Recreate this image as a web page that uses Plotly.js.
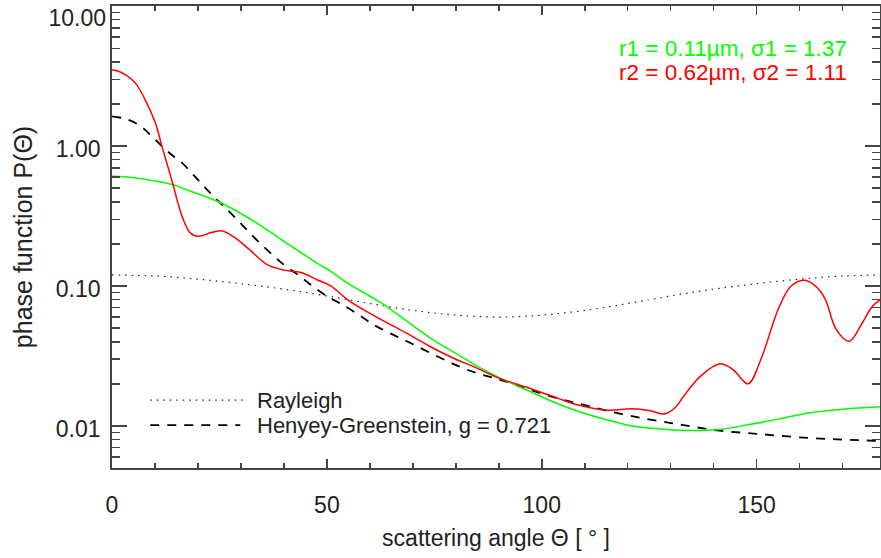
<!DOCTYPE html>
<html>
<head>
<meta charset="utf-8">
<script src="https://cdn.plot.ly/plotly-3.0.1.min.js"></script>
<style>html,body{margin:0;padding:0;background:#fff;}#chart{width:881px;height:558px;}</style>
</head>
<body>
<div id="chart"></div>
<script>
// Rayleigh phase function (dotted)
const rayAngle = [0,10,20,30,40,50,60,70,80,90,100,110,120,130,140,150,160,170,180];
const rayValue = [0.120,0.118,0.112,0.104,0.095,0.085,0.075,0.067,0.062,0.060,0.062,0.067,0.075,0.085,0.095,0.104,0.112,0.118,0.120];

// Henyey-Greenstein, g = 0.721 (dashed)
const hgAngle = [0,3,6.2,9,11.6,14,16.3,19,21.7,24.4,27.5,30.6,33.5,36.8,40,43.8,47,50,53,57,60.8,65,69.4,75,80.2,85,89.5,95,102,110,117.4,124,130,135,140.7,150,160,170,180];
const hgValue = [1.63,1.57,1.42,1.2,1.0,0.86,0.759,0.62,0.503,0.415,0.335,0.267,0.216,0.173,0.142,0.117,0.098,0.0846,0.0755,0.0635,0.0531,0.0455,0.0393,0.0322,0.0271,0.0238,0.0218,0.0192,0.0163,0.0141,0.0124,0.0113,0.0105,0.0099,0.0093,0.0088,0.0083,0.0080,0.0078];

// Mode 1: r1 = 0.11 um, sigma1 = 1.37 (green)
const g1Angle = [0,6,14,18,24,30,36,42,47.7,51,55,60.8,63.6,69,74,80,85.7,91,97,104,110,116,121,128,135,142,148,155,162,170,180];
const g1Value = [0.608,0.59,0.531,0.48,0.41,0.33,0.253,0.19,0.146,0.127,0.104,0.082,0.0726,0.055,0.0427,0.033,0.026,0.0215,0.0178,0.0143,0.0123,0.0109,0.0100,0.0095,0.0093,0.0095,0.0102,0.0112,0.0124,0.0132,0.0138];

// Mode 2: r2 = 0.62 um, sigma2 = 1.11 (red)
const r2Angle = [0,1.5,3.1,5.4,7.7,10.1,11.6,13.2,14.3,16.3,18.2,20.1,23.3,25.5,28,32,36,40,44,47.7,51,55,62,68,74,80,84,90,97,104,108,115,121,125,128.5,131,133,137,141.5,144.5,148,151,155,158,161.2,164,166,168.5,171.5,174.5,177,180];
const r2Value = [3.5,3.43,3.24,2.83,2.15,1.46,1.0,0.68,0.516,0.315,0.24,0.227,0.242,0.248,0.228,0.182,0.143,0.130,0.125,0.111,0.100,0.079,0.059,0.047,0.037,0.030,0.0267,0.022,0.0187,0.0157,0.01425,0.0130,0.0133,0.0129,0.0122,0.0135,0.0163,0.0228,0.0278,0.0253,0.0200,0.030,0.068,0.100,0.110,0.098,0.080,0.049,0.0403,0.054,0.072,0.085];

const yTickVals = [0.01,0.1,1,10];
const yTickText = ['0.01','0.10','1.00',''];
const yTopTickVals = [10];
const yTopTickText = ['10.00'];
const yMinorVals = [0.006,0.007,0.008,0.009,0.02,0.03,0.04,0.05,0.06,0.07,0.08,0.09,0.2,0.3,0.4,0.5,0.6,0.7,0.8,0.9,2,3,4,5,6,7,8,9];

const FONT = 'Liberation Sans, Arial, Helvetica, sans-serif';
const AX = '#444';
const TXT = '#222';

const traces = [
  {x: rayAngle, y: rayValue, mode: 'lines', line: {color: '#222', width: 1.2, dash: '1.5px,5px', shape: 'spline'}, hoverinfo: 'skip'},
  {x: hgAngle, y: hgValue, mode: 'lines', line: {color: '#000', width: 1.8, dash: '9px,8px', shape: 'spline'}, hoverinfo: 'skip'},
  {x: g1Angle, y: g1Value, mode: 'lines', line: {color: '#00ff00', width: 1.5, shape: 'spline'}, hoverinfo: 'skip'},
  {x: r2Angle, y: r2Value, mode: 'lines', line: {color: '#ff0000', width: 1.5, shape: 'spline'}, hoverinfo: 'skip'},
  {x: [], y: [], yaxis: 'y2', mode: 'lines', hoverinfo: 'skip'}
];

const layout = {
  width: 881, height: 558,
  margin: {l: 112, r: 1, t: 6, b: 90},
  paper_bgcolor: '#fff', plot_bgcolor: '#fff',
  showlegend: false,
  font: {family: FONT, size: 22, color: TXT},
  xaxis: {
    range: [0, 178.7], showgrid: false, zeroline: false,
    showline: true, linecolor: AX, linewidth: 1.8, mirror: 'ticks',
    ticks: 'inside', ticklen: 9, tickwidth: 1.5, tickcolor: AX,
    tick0: 0, dtick: 50, ticklabelstandoff: 16,
    minor: {dtick: 10, ticks: 'inside', ticklen: 5, tickwidth: 1.5, tickcolor: AX},
    tickfont: {family: FONT, size: 23, color: TXT},
    title: {text: 'scattering angle Θ [ ° ]', font: {family: FONT, size: 23, color: TXT}, standoff: 12}
  },
  yaxis: {
    type: 'log', range: [-2.3, 1.001], showgrid: false, zeroline: false,
    showline: true, linecolor: AX, linewidth: 1.8, mirror: 'ticks',
    ticks: 'inside', ticklen: 15, tickwidth: 1.5, tickcolor: AX,
    tickmode: 'array', tickvals: yTickVals, ticktext: yTickText, ticklabelstandoff: 5,
    ticklabelshift: 3,
    minor: {tickmode: 'array', tickvals: yMinorVals, ticks: 'inside', ticklen: 8, tickwidth: 1.5, tickcolor: AX},
    tickfont: {family: FONT, size: 23, color: TXT},
    title: {text: 'phase function P(Θ)', font: {family: FONT, size: 25, color: TXT}, standoff: 16}
  },
  yaxis2: {
    type: 'log', range: [-2.3, 1.001], overlaying: 'y', side: 'left', anchor: 'x',
    showgrid: false, zeroline: false, showline: false, ticks: '',
    tickmode: 'array', tickvals: yTopTickVals, ticktext: yTopTickText, ticklabelstandoff: 5,
    ticklabeloverflow: 'allow', ticklabelshift: 12,
    tickfont: {family: FONT, size: 23, color: TXT}
  },
  shapes: [
    {type: 'line', xref: 'paper', yref: 'paper', x0: 0.0498, x1: 0.171, y0: 0.147, y1: 0.147, line: {color: '#222', width: 1.2, dash: '1.5px,5px'}},
    {type: 'line', xref: 'paper', yref: 'paper', x0: 0.0498, x1: 0.167, y0: 0.093, y1: 0.093, line: {color: '#000', width: 1.8, dash: '9px,8px'}}
  ],
  annotations: [
    {xref: 'paper', yref: 'paper', x: 0.1865, y: 0.147, xanchor: 'left', yanchor: 'middle', text: 'Rayleigh', showarrow: false, font: {family: FONT, size: 22, color: TXT}},
    {xref: 'paper', yref: 'paper', x: 0.1865, y: 0.093, xanchor: 'left', yanchor: 'middle', text: 'Henyey-Greenstein, g = 0.721', showarrow: false, font: {family: FONT, size: 22, color: TXT}},
    {xref: 'paper', yref: 'paper', x: 0.960, y: 0.909, xanchor: 'right', yanchor: 'middle', text: 'r1 = 0.11µm, σ1 = 1.37', showarrow: false, font: {family: FONT, size: 22.5, color: '#00ff00'}},
    {xref: 'paper', yref: 'paper', x: 0.960, y: 0.855, xanchor: 'right', yanchor: 'middle', text: 'r2 = 0.62µm, σ2 = 1.11', showarrow: false, font: {family: FONT, size: 22.5, color: '#ff0000'}}
  ]
};

Plotly.newPlot('chart', traces, layout, {staticPlot: true, displayModeBar: false});
</script>
</body>
</html>
